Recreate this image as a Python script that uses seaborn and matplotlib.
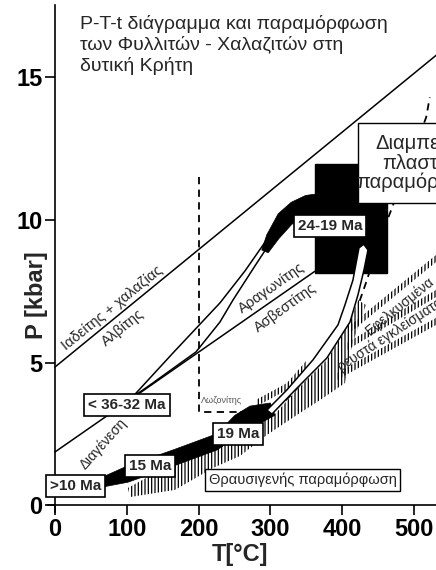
import matplotlib
matplotlib.use('Agg')
import matplotlib.pyplot as plt
import seaborn as sns
from matplotlib.patches import Rectangle

sns.set_style('white')
plt.rcParams['font.family'] = ['Liberation Sans', 'DejaVu Sans']
plt.rcParams['hatch.linewidth'] = 0.9

# axis ticks
t_ticks = [0, 100, 200, 300, 400, 500]
p_ticks = [0, 5, 10, 15]

# reaction lines (T in °C, P in kbar)
jd_T = [0, 531]
jd_P = [4.84, 15.78]
arag_T = [0, 362]
arag_P = [1.86, 8.2]
laws_T = [200, 200, 258]
laws_P = [11.5, 3.26, 3.26]
laws2_T = [258, 300, 340, 380, 415, 434.5, 452, 466, 517, 522]
laws2_P = [3.26, 3.2, 4.1, 5.0, 6.49, 7.89, 9.3, 10.2, 13.6, 14.3]

# prograde path (white band)
pro_T = [97.5, 114.2, 165.7, 229.8, 264.6, 296.7, 299.4, 278.6, 247.9, 229.8, 196.4, 132.3, 104.5]
pro_P = [3.51, 3.96, 5.37, 7.09, 8.21, 9.37, 9.19, 8.39, 7.19, 6.42, 5.37, 4.21, 3.72]
# black tip of the prograde path
tip_T = [288.0, 295.0, 311.0, 329.0, 349.0, 366.0, 366.0, 347.0, 330.0, 312.0, 297.0]
tip_P = [8.95, 9.48, 10.22, 10.62, 10.86, 10.92, 10.15, 10.12, 9.85, 9.35, 8.85]

# peak metamorphism block
peak_T = [362, 462]
peak_P = [8.14, 11.96]

# retrograde path (white band)
ret_T = [423.4, 415.0, 403.9, 394.2, 359.3, 323.1, 295.3, 302.2, 337.0, 378.8, 410.9, 422.0, 430.4, 436.0, 430.0]
ret_P = [9.02, 7.89, 7.02, 6.32, 5.09, 4.04, 3.33, 3.19, 4.10, 5.16, 6.42, 7.37, 8.25, 8.95, 9.15]
# retrograde path (black band, late stage)
blk_T = [300.0, 271.6, 250.7, 225.6, 164.3, 101.7, 72.4, 48.7,
         48.7, 72.4, 101.7, 164.3, 225.6, 257.7, 288.3, 306.4]
blk_P = [3.58, 3.47, 3.15, 2.50, 1.93, 1.38, 1.05, 0.90,
         0.48, 0.66, 0.80, 1.36, 1.93, 2.46, 2.90, 3.15]

# brittle deformation field (hatched)
hat_T = [101.7, 167.1, 222.8, 264.6, 306.4, 337.0, 378.8, 410.9, 422.0,
         433.1, 413.6, 403.9, 369.1, 341.2, 295.3, 257.7, 220.1, 167.1, 104.5]
hat_P = [0.60, 1.51, 2.07, 2.63, 3.19, 4.04, 5.09, 6.42, 7.19,
         7.02, 5.61, 4.28, 3.68, 3.23, 2.46, 1.72, 1.30, 0.53, 0.28]
fringe_T = [280, 323.1, 350, 350, 323.1, 280]
fringe_P = [3.45, 4.04, 4.82, 5.06, 4.28, 3.69]

# stretched fluid inclusions (rows of ticks): start and end points
row_T0 = [410.9, 406.7, 392.8]
row_P0 = [6.04, 5.44, 4.39]
row_T1 = [531, 531, 531]
row_P1 = [8.53, 7.30, 6.32]

# age boxes
age_labels = ['< 36-32 Ma', '24-19 Ma', '19 Ma', '15 Ma', '>10 Ma']
age_T = [100.3, 383.0, 254.9, 132.3, 29.2]
age_P = [3.51, 9.79, 2.49, 1.37, 0.67]

fig = plt.figure(figsize=(4.36, 5.70), dpi=100)
ax = fig.add_axes([0.1112, 0.1015, 0.8888, 0.8896])
ax.set_xlim(-9, 530.7)
ax.set_ylim(-0.25, 17.54)

lw = 1.1
sns.lineplot(x=jd_T, y=jd_P, color='black', lw=lw, ax=ax, sort=False, estimator=None, zorder=2)
sns.lineplot(x=arag_T, y=arag_P, color='black', lw=lw, ax=ax, sort=False, estimator=None, zorder=2)
sns.lineplot(x=laws2_T, y=laws2_P, color='black', lw=1.3, ax=ax, sort=False, estimator=None,
             linestyle=(0, (4, 3)), zorder=2)
sns.lineplot(x=laws_T, y=laws_P, color='black', lw=1.3, ax=ax, sort=False, estimator=None,
             linestyle=(0, (4, 3)), zorder=4.5)

# hatched fields
ax.fill(hat_T, hat_P, fc='white', ec='black', lw=0, hatch='|||||', zorder=2.5)
ax.fill(fringe_T, fringe_P, fc='none', ec='black', lw=0, hatch='|||||', zorder=2.5)
for t0, p0, t1, p1 in zip(row_T0, row_P0, row_T1, row_P1):
    ax.fill([t0, t1, t1, t0], [p0, p1, p1 + 0.25, p0 + 0.25], fc='none', ec='black',
            lw=0, hatch='|||||', zorder=2.5)

# peak block
ax.add_patch(Rectangle((peak_T[0], peak_P[0]), peak_T[1] - peak_T[0], peak_P[1] - peak_P[0],
                       fc='black', ec='black', zorder=3))

# P-T-t path
ax.fill(pro_T, pro_P, fc='white', ec='black', lw=lw, zorder=4)
ax.fill(tip_T, tip_P, fc='black', ec='black', lw=0.5, zorder=5)
ax.fill(ret_T, ret_P, fc='white', ec='black', lw=lw, zorder=5)
ax.fill(blk_T, blk_P, fc='black', ec='black', lw=0.5, zorder=4)

# ductile deformation box (clipped by the frame)
ax.add_patch(Rectangle((422, 10.6), 150, 2.8, fc='white', ec='black', lw=1, zorder=6))
ax.text(513, 12.0, 'Διαμπερής\nπλαστική\nπαραμόρφωση', ha='center', va='center',
        fontsize=14.5, linespacing=1.0, zorder=7, clip_on=True)

# brittle deformation box
ax.text(345, 0.88, 'Θραυσιγενής παραμόρφωση', ha='center', va='center', fontsize=10.5,
        zorder=6, bbox=dict(boxstyle='square,pad=0.25', fc='white', ec='black', lw=1))

for lab, t, p in zip(age_labels, age_T, age_P):
    ax.text(t, p, lab, ha='center', va='center', fontsize=11, fontweight='bold', zorder=7,
            bbox=dict(boxstyle='square,pad=0.25', fc='white', ec='black', lw=1.2))

# reaction labels
ax.text(79.4, 6.91, 'Ιαδείτης + χαλαζίας', rotation=39, ha='center', va='center',
        rotation_mode='anchor', fontsize=10.5)
ax.text(94.7, 6.21, 'Αλβίτης', rotation=39, ha='center', va='center',
        rotation_mode='anchor', fontsize=10.5)
ax.text(302, 7.61, 'Αραγωνίτης', rotation=35, ha='center', va='center',
        rotation_mode='anchor', fontsize=10.5)
ax.text(321.7, 6.91, 'Ασβεστίτης', rotation=36, ha='center', va='center',
        rotation_mode='anchor', fontsize=10.5)
ax.text(67, 2.14, 'Διαγένεση', rotation=48, ha='center', va='center',
        rotation_mode='anchor', fontsize=10)
ax.text(203, 3.68, 'Λωζονίτης', ha='left', va='center', fontsize=6.5, color='#555555')
ax.text(480, 7.0, 'Εφελκυσμένα', rotation=39, ha='center', va='center',
        rotation_mode='anchor', fontsize=10, zorder=6, clip_on=True)
ax.text(396, 4.8, 'ρευστά εγκλείσματα', rotation=33, ha='left', va='center',
        rotation_mode='anchor', fontsize=10, zorder=6, clip_on=True)

# title
ax.text(34.8, 17.19, 'P-T-t διάγραμμα και παραμόρφωση\nτων Φυλλιτών - Χαλαζιτών στη\nδυτική Κρήτη',
        ha='left', va='top', fontsize=14, linespacing=1.2)

# axes
sns.despine(ax=ax)
ax.spines['left'].set_position(('data', 0))
ax.spines['bottom'].set_position(('data', 0))
for s in ['left', 'bottom']:
    ax.spines[s].set_linewidth(1.2)
    ax.spines[s].set_color('black')
ax.set_xticks(t_ticks)
ax.set_yticks(p_ticks)
ax.tick_params(axis='both', direction='out', length=7, width=1.2, labelsize=17, pad=2,
               colors='black', left=True, bottom=True)
for lbl in ax.get_xticklabels() + ax.get_yticklabels():
    lbl.set_fontweight('bold')
ax.set_xlabel('T[°C]', fontsize=17, fontweight='bold')
ax.xaxis.set_label_coords(0.494, -0.061)
ax.set_ylabel('P [kbar]', fontsize=17, fontweight='bold', va='center')
ax.yaxis.set_label_coords(-0.03, 0.428)

fig.savefig('out.png', dpi=100)
